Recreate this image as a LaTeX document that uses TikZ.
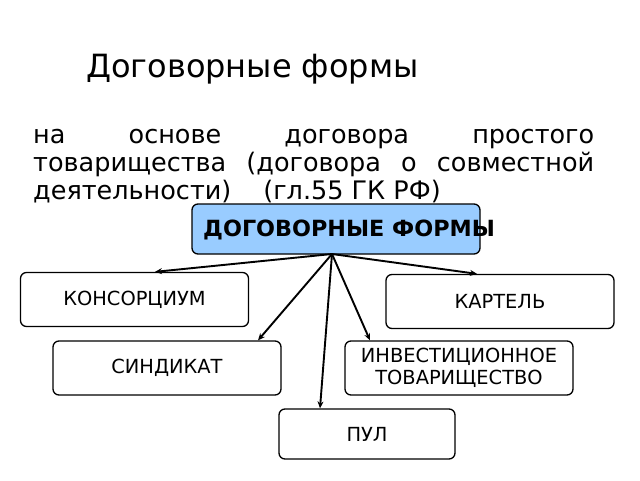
\documentclass[tikz,border=0pt]{standalone}
\usepackage{fontspec}
\setmainfont{DejaVu Sans}
\usetikzlibrary{arrows.meta}
\definecolor{boxblue}{HTML}{99CCFF}
\tikzset{
  formbox/.style={draw=black, line width=1.3pt, rounded corners=6pt, fill=white,
    minimum width=228pt, minimum height=54pt, align=center, font=\fontsize{19.4}{22.5}\selectfont},
  mainbox/.style={draw=black, line width=1.3pt, rounded corners=6pt, fill=boxblue,
    minimum width=288pt, minimum height=50pt},
  link/.style={line width=1.9pt, -{Stealth[length=7pt,width=6pt]}}
}
\begin{document}
\begin{tikzpicture}[x=1pt,y=-1pt]
\useasboundingbox (0,0) rectangle (640,480);
\node[font=\fontsize{32}{36}\selectfont, anchor=base west, inner sep=0pt] (title) at (86,77) {Договорные формы};
\node[anchor=north west, inner sep=0pt, text width=561pt, align=justify,
  font=\fontsize{25.5}{28}\selectfont] (para) at (33,129)
  {на основе договора простого товарищества (договора о совместной деятельности)\hspace{32pt}(гл.55 ГК РФ)};
\node[mainbox] (main) at (336,229) {};
\node[font=\bfseries\fontsize{22.3}{24}\selectfont, inner sep=0pt, anchor=west] (maintext) at (203,229.5) {ДОГОВОРНЫЕ ФОРМЫ};
\coordinate (o) at (332,254);
\node[formbox] (kons) at (134.5,299.5) {КОНСОРЦИУМ};
\node[formbox] (kart) at (500,301.5) {КАРТЕЛЬ};
\node[formbox] (sind) at (167,368) {СИНДИКАТ};
\node[formbox] (inv) at (459,368) {ИНВЕСТИЦИОННОЕ\\ТОВАРИЩЕСТВО};
\node[formbox, minimum width=176pt, minimum height=50pt] (pul) at (367,434) {ПУЛ};
\draw[link] (o) -- ([xshift=20.5pt]kons.north);
\draw[link] (o) -- ([xshift=-23pt]kart.north);
\draw[link] (o) -- ([xshift=91pt]sind.north);
\draw[link] (o) -- ([xshift=-89pt]inv.north);
\draw[link] (o) -- ([xshift=-47pt]pul.north);
\end{tikzpicture}
\end{document}
